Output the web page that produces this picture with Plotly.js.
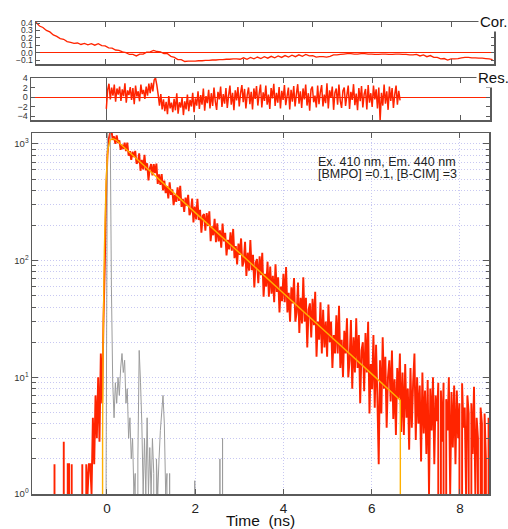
<!DOCTYPE html>
<html>
<head>
<meta charset="utf-8">
<script src="https://cdn.plot.ly/plotly-3.0.1.min.js"></script>
<style>
html,body{margin:0;padding:0;background:#fff;}
#chart{width:508px;height:529px;}
</style>
</head>
<body>
<div id="chart"></div>
<script>
// ---------- DATA ----------
// decay histogram: channel start and channel width (ns)
const decayStart = -1.70;
const decayStep = 0.03;
// sample decay counts (red)
const decayCounts = [
  0,0,0,0,0,0,0,0,0,0,
  0,0,0,0,0,0,0,1.8,0,0,
  0,0,0,0,2.8,0,0,1.8,1.8,0,
  1.8,0,0,0,0,0,0,0,1.8,0,
  0,1.8,1,1.8,1.8,1,4.5,1.8,7,3,
  10,2.8,16,6,30,90,350,800,1100,1250,
  1319,1086,1160,1003,1184,1019,1072,891,986,905,
  1027,867,1028,793,866,731,860,772,872,678,
  696,832,589,731,605,807,593,683,487,616,
  673,538,673,562,678,454,548,447,551,400,
  486,379,435,342,470,366,408,299,366,319,
  424,325,438,289,339,261,347,295,367,245,
  264,341,213,290,226,339,223,273,174,242,
  251,181,256,198,265,147,197,165,228,144,
  209,146,182,129,208,146,173,111,151,125,
  175,122,187,105,133,93,140,112,155,89,
  98,145,74,117,82,150,83,112,59,96,
  103,64,109,75,117,49,77,60,98,49,
  89,52,74,44,93,54,72,36,60,45,
  77,44,88,36,53,30,59,43,71,30,
  36,65,24,48,29,72,30,48,18,38,
  43,22,47,28,54,15,30,21,44,16,
  38,18,30,15,42,20,30,12,23,16,
  34,16,41,12,21,10,25,16,32,10,
  14,31,8,22,11,32,12,23,6,17,
  20,7.6,24,11,30,4.9,13,7.9,23,5.5,
  19,6.5,1.8,14,4.9,22,8,15,3.7,10,
  14,6.2,17,4.4,9.6,3.2,12,6.6,16,3.4,
  11,3.2,13,4.5,8,2.4,12,3.7,9,16,
  2.9,10,4,8.5,1.9,11,3.3,7.7,2.2,9.5,
  1,8,3.5,10,1.8,7,4.2,9,0,7.7,
  2.8,9,0,6.5,3.5,10,1,7.5,2.5,8.5,
  1.8,7.7,3,6,0,8.9,3.7,5.5,1,7,
  4.9,0,6,2.2,8.3,1,4.5,3,0,5.5,
  4,0,4.9,2,0,4.5
];
// instrument response (gray), same channels
const irfCounts = [
  0,0,0,0,0,0,0,0,0,0,
  0,0,0,0,0,0,0,0,0,0,
  0,0,0,0,0,0,0,0,0,0,
  0,0,0,0,0,0,0,0,0,0,
  0,0,0,0,0,0,0,0,0,0,
  0,0,0,0,0,0,1.5,1500,3000,2000,
  60,9,4.5,9,6,10,7,12,16,11,
  14,6,8,3,4.5,2,3,1,1.5,0,
  2,17,9,4,1,3,1,4.5,1,2.5,
  1,3,1.5,0,2,1,2,3.5,5,7,
  4,1,1.5,0,1.5,0,0,0,0,0,
  0,0,0,0,0,0,0,0,0,0,
  0,0,0,1.3,0,0,0,0,0,0,
  0,0,0,0,0,0,0,0,0,0,
  0,0,2,0,3,0,0,0,0,0,
  0,0,0,0,0,0,0,0,0,0,
  0,0,0,0,0,0,0,0,0,0,
  0,0,0,0,0,0,0,0,0,0,
  0,0,0,0,0,0,0,0,0,0,
  0,0,0,0,0,0,0,0,0,0,
  0,0,0,0,0,0,0,0,0,0,
  0,0,0,0,0,0,0,0,0,0,
  0,0,0,0,0,0,0,0,0,0,
  0,0,0,0,0,0,0,0,0,0,
  0,0,0,0,0,0,0,0,0,0,
  0,0,0,0,0,0,0,0,0,0,
  0,0,0,0,0,0,0,0,0,0,
  0,0,0,0,0,0,0,0,0,0,
  0,0,0,0,0,0,0,0,0,0,
  0,0,0,0,0,0,0,0,0,0,
  0,0,0,0,0,0,0,0,0,0,
  0,0,0,0,0,0,0,0,0,0,
  0,0,0,0,0,0,0,0,0,0,
  0,0,0,0,0,0,0,0,0,0,
  0,0,0,0,0,0
];
// fitted curve (orange)
const fitTime   = [-0.11,-0.10,-0.09,-0.06,-0.02,0.02,0.07,0.13,0.20,1.0,2.0,3.0,4.0,5.0,6.0,6.65,6.65];
const fitCounts = [0,3,17,120,480,900,1080,1110,1086,575,258,117,52.5,23.7,10.7,6.35,0];

// weighted residuals (Res. panel), fit range channels
const resStart = 0.0;
const resStep = 0.03;
const residuals = [
  -2.5,1.5,2.8,-0.5,2.0,0.3,2.6,-1.0,1.8,0.5,
  2.2,-0.8,1.6,0.2,2.9,-1.2,1.4,0.4,2.1,-0.6,
  1.9,-1.5,2.4,0.1,1.2,-0.9,2.6,0.6,1.5,-0.4,
  2.2,0.3,2.8,0.8,3.0,1.2,3.6,4.0,2.5,0.5,
  -1.8,0.6,-2.6,-0.5,-3.0,-1.0,-3.6,0.2,-2.4,-1.2,
  -3.2,-0.4,-2.8,0.8,-3.5,-1.1,-2.2,-0.2,-3.8,-0.9,
  -2.6,0.5,-3.0,-0.6,-2.0,0.9,-3.2,-0.3,-1.8,1.2,
  -2.5,0.4,-1.6,1.8,-2.9,0.2,-1.3,1.5,-2.4,0.8,
  -1.9,2.0,-1.0,-2.7,1.1,-0.5,2.2,-2.1,0.6,-1.4,
  1.9,-2.3,0.3,2.4,-1.6,0.9,-2.8,1.4,-0.7,2.1,
  -2.0,0.8,2.5,-1.1,1.7,-2.4,0.4,2.0,-1.5,1.1,
  -2.6,1.8,-0.4,2.3,-1.8,0.7,2.6,-2.2,1.0,-0.8,
  2.4,-1.6,0.5,-2.5,1.9,-0.3,2.8,-1.9,0.9,-1.2,
  2.1,-2.4,1.3,-0.6,2.5,-1.7,0.2,2.0,-2.6,1.5,
  -1.0,2.3,-2.0,0.6,2.7,-1.4,1.2,-2.3,1.8,-0.5,
  2.6,-1.8,0.8,-2.9,1.6,2.2,-1.1,0.3,-2.2,2.4,
  -1.5,1.0,2.5,-2.0,0.5,-1.3,2.9,-2.4,1.4,-0.2,
  2.2,-2.7,0.9,1.8,-1.6,2.6,-0.8,-2.3,1.3,2.0,
  -1.9,0.4,2.4,-2.5,1.1,-0.6,2.7,-1.7,0.7,-2.8,
  1.9,-0.9,2.3,-2.2,0.6,1.7,-2.6,2.5,-1.2,0.8,
  -2.1,2.4,-0.5,1.6,-2.4,2.0,-5.0,0.9,-1.8,2.6,
  -1.4,1.2,-2.7,2.2,-0.8,1.9,-2.3,0.5,2.4,-1.6,
  1.3,-0.7
];

// autocorrelation of residuals (Cor. panel)
const corStart = 0;
const corStep = 0.05;
const correlation = [
  0.41,0.36,0.34,0.30,0.28,0.24,0.22,0.19,0.18,0.15,
  0.14,0.125,0.13,0.11,0.125,0.105,0.12,0.10,0.12,0.095,
  0.09,0.065,0.06,0.035,0.03,0.01,0.0,-0.025,-0.025,-0.045,
  -0.02,-0.02,0.005,0.01,0.03,0.015,0.01,-0.015,-0.015,-0.05,
  -0.065,-0.095,-0.095,-0.12,-0.115,-0.115,-0.115,-0.11,-0.11,-0.105,
  -0.105,-0.1,-0.1,-0.095,-0.095,-0.09,-0.09,-0.085,-0.085,-0.09,
  -0.07,-0.09,-0.065,-0.085,-0.06,-0.08,-0.055,-0.075,-0.05,-0.07,
  -0.045,-0.065,-0.04,-0.06,-0.035,-0.055,-0.03,-0.05,-0.025,-0.045,
  -0.04,-0.06,-0.055,-0.055,-0.06,-0.05,-0.03,-0.03,-0.025,-0.02,
  -0.015,-0.015,-0.02,-0.02,-0.015,-0.015,-0.02,-0.02,-0.025,-0.025,
  -0.02,-0.02,-0.025,-0.025,-0.02,-0.02,-0.025,-0.025,-0.03,-0.03,
  -0.025,-0.045,-0.03,-0.055,-0.04,-0.065,-0.065,-0.085,-0.08,-0.1,
  -0.085,-0.085,-0.08,-0.07,-0.065,-0.065,-0.07,-0.07,-0.075,-0.075,
  -0.08,-0.085,-0.095
];

// tick labels
const timeTicks = [0, 2, 4, 6, 8];
const countTicks = [1, 10, 100, 1000];
const countTickText = ['10<sup>0</sup>', '10<sup>1</sup>', '10<sup>2</sup>', '10<sup>3</sup>'];
const resTicks = [-4, -2, 0, 2, 4];
const corTicks = [-0.1, 0.0, 0.1, 0.2, 0.3, 0.4];
const infoLines = ['Ex. 410 nm, Em. 440 nm', '[BMPO] =0.1, [B-CIM] =3'];
const panelLabels = ['Cor.', 'Res.'];
const xTitle = 'Time\u00a0 (ns)';

// ---------- STYLE / LAYOUT ----------
const W = 508, H = 529;
const fx = p => p / W;
const fy = p => 1 - p / H;

const RED = '#ff2400';
const GRAY = '#9c9c9c';
const ORANGE = '#ffb000';
const AX = '#5a5a5a';
const GRID = '#c8c8f2';
const DOT = '1px,2px';
const FONT = 'Liberation Sans, Arial, Helvetica, sans-serif';

const minorCountTicks = [];
for (let d = 1; d <= 1000; d *= 10) {
  for (let m = 2; m <= 9; m++) minorCountTicks.push(m * d);
}

const traces = [
  {type:'scatter', mode:'lines', x0:decayStart, dx:decayStep, y:decayCounts,
   xaxis:'x', yaxis:'y', line:{color:RED, width:1.9, simplify:false}},
  {type:'scatter', mode:'lines', x0:decayStart, dx:decayStep, y:irfCounts,
   xaxis:'x', yaxis:'y', line:{color:GRAY, width:1, simplify:false}},
  {type:'scatter', mode:'lines', x:fitTime, y:fitCounts,
   xaxis:'x', yaxis:'y', line:{color:ORANGE, width:1.4, simplify:false}},
  {type:'scatter', mode:'lines', x0:resStart, dx:resStep, y:residuals,
   xaxis:'x2', yaxis:'y2', line:{color:RED, width:1.5, simplify:false}},
  {type:'scatter', mode:'lines', x0:corStart, dx:corStep, y:correlation,
   xaxis:'x3', yaxis:'y3', line:{color:RED, width:1.3, simplify:false}}
];

const axBase = {
  showline:true, linecolor:AX, linewidth:1.5, mirror:'ticks',
  ticks:'inside', tickcolor:AX, tickwidth:1, automargin:false,
  tickfont:{family:FONT, size:9.5, color:'#333'}, fixedrange:true
};

const layout = {
  width:W, height:H,
  margin:{l:0, r:0, t:0, b:0},
  paper_bgcolor:'#fff', plot_bgcolor:'#fff',
  showlegend:false, hovermode:false,
  font:{family:FONT, color:'#222'},
  xaxis: Object.assign({}, axBase, {
    domain:[fx(32), fx(489)], anchor:'y', range:[-1.70, 8.66],
    tickmode:'array', tickvals:timeTicks, ticklen:5, ticklabelstandoff:1,
    tickfont:{family:FONT, size:13.5, color:'#222'},
    showgrid:true, gridcolor:GRID, griddash:DOT, gridwidth:1, zeroline:false,
    title:{text:xTitle, font:{family:FONT, size:15.5, color:'#111'}, standoff:7}
  }),
  yaxis: Object.assign({}, axBase, {
    domain:[fy(494), fy(133)], anchor:'x', type:'log', range:[0, 3.094],
    tickmode:'array', tickvals:countTicks, ticktext:countTickText, ticklen:6,
    tickfont:{family:FONT, size:9.5, color:'#333'},
    showgrid:true, gridcolor:GRID, griddash:DOT, gridwidth:1, zeroline:false,
    minor:{tickmode:'array', tickvals:minorCountTicks, ticks:'inside', ticklen:3.5,
           tickcolor:AX, showgrid:true, gridcolor:GRID, griddash:DOT, gridwidth:1}
  }),
  xaxis2: Object.assign({}, axBase, {
    domain:[fx(31), fx(490)], anchor:'y2', range:[-1.70, 8.66],
    tickmode:'array', tickvals:timeTicks, ticklen:5, showticklabels:false,
    showgrid:false, zeroline:true, zerolinecolor:AX, zerolinewidth:1
  }),
  yaxis2: Object.assign({}, axBase, {
    domain:[fy(120), fy(78)], anchor:'x2', range:[-4.84, 4.0],
    tickmode:'array', tickvals:resTicks, ticklen:4,
    tickfont:{family:FONT, size:9, color:'#333'},
    showgrid:false, zeroline:true, zerolinecolor:RED, zerolinewidth:1
  }),
  xaxis3: Object.assign({}, axBase, {
    domain:[fx(36), fx(494)], anchor:'y3', range:[0, 6.62],
    tick0:0, dtick:1, ticklen:5, showticklabels:false,
    showgrid:false, zeroline:false
  }),
  yaxis3: Object.assign({}, axBase, {
    domain:[fy(64), fy(22)], anchor:'x3', range:[-0.154, 0.414],
    tickmode:'array', tickvals:corTicks, tickformat:'.1f', ticklen:3.5,
    tickfont:{family:FONT, size:8.5, color:'#333'},
    showgrid:false, zeroline:true, zerolinecolor:RED, zerolinewidth:1
  }),
  annotations: [
    {xref:'paper', yref:'paper', x:fx(478), y:fy(22), xanchor:'left', yanchor:'middle',
     text:panelLabels[0], showarrow:false, bgcolor:'#fff', borderpad:1,
     font:{family:FONT, size:15, color:'#111'}},
    {xref:'paper', yref:'paper', x:fx(476), y:fy(78), xanchor:'left', yanchor:'middle',
     text:panelLabels[1], showarrow:false, bgcolor:'#fff', borderpad:1,
     font:{family:FONT, size:15, color:'#111'}},
    {xref:'paper', yref:'paper', x:fx(316), y:fy(162), xanchor:'left', yanchor:'middle',
     text:infoLines[0], showarrow:false, font:{family:FONT, size:12.5, color:'#222'}},
    {xref:'paper', yref:'paper', x:fx(316), y:fy(174), xanchor:'left', yanchor:'middle',
     text:infoLines[1], showarrow:false, font:{family:FONT, size:12.5, color:'#222'}}
  ]
};

Plotly.newPlot('chart', traces, layout, {staticPlot:true, displayModeBar:false});
</script>
</body>
</html>
